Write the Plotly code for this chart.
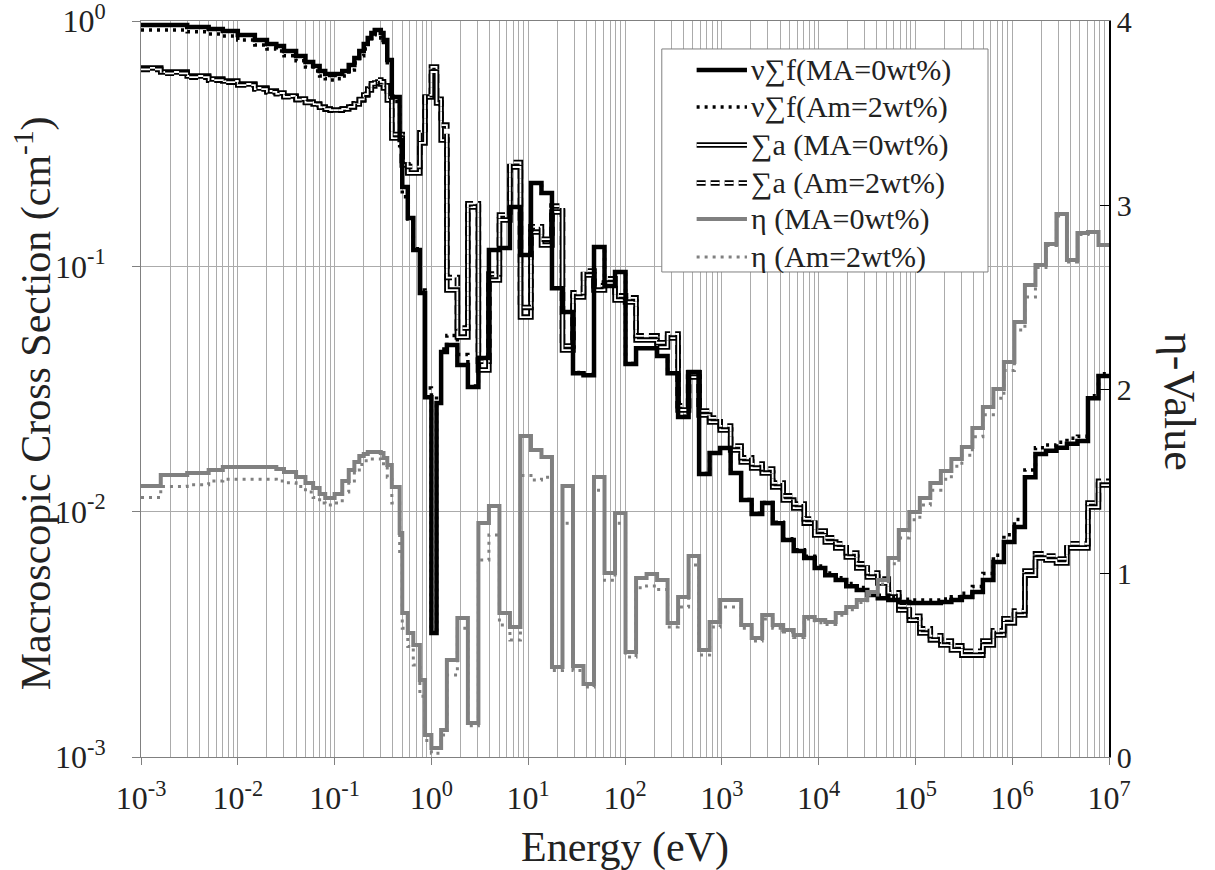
import plotly.graph_objects as go

# Energy group boundaries (eV), descending
E_BOUNDS = [
    1.0e7, 7.788e6, 6.065e6, 4.724e6, 3.679e6, 2.865e6, 2.231e6, 1.738e6, 1.353e6, 1.054e6,
    8.208e5, 6.393e5, 4.979e5, 3.877e5, 3.020e5, 2.352e5, 1.832e5, 1.426e5, 1.111e5, 8.652e4,
    6.738e4, 5.248e4, 4.087e4, 3.183e4, 2.479e4, 1.930e4, 1.503e4, 1.171e4, 9.119e3, 7.102e3,
    5.531e3, 4.307e3, 3.355e3, 2.613e3, 2.035e3, 1.585e3, 1.234e3, 961.1, 748.5, 582.9,
    454.0, 353.6, 275.4, 214.5, 167.0, 130.1, 101.3, 78.89, 61.44, 47.85,
    37.27, 29.02, 22.60, 17.60, 13.71, 10.68, 8.315, 6.476, 5.043, 3.928,
    3.059, 2.382, 1.855, 1.445, 1.26, 1.13, 1.0, 0.86, 0.76, 0.65,
    0.57, 0.50, 0.47, 0.39, 0.35, 0.32, 0.30, 0.28, 0.26, 0.24,
    0.22, 0.20, 0.18, 0.16, 0.14, 0.12, 0.10, 0.09, 0.08, 0.07,
    0.06, 0.05, 0.04, 0.03, 0.025, 0.02, 0.015, 0.01, 0.007, 0.005,
    0.003, 0.0016, 0.001,
]

# Group values, same order (highest energy group first)
NUSF_MA = [
    0.0357, 0.0290, 0.0194, 0.0189, 0.0182, 0.0177, 0.0172, 0.0138, 0.00865, 0.00752,
    0.00623, 0.00526, 0.00470, 0.00449, 0.00436, 0.00428, 0.00424, 0.00424, 0.00424, 0.00428,
    0.00436, 0.00444, 0.00457, 0.00479, 0.00497, 0.00526, 0.00551, 0.00589, 0.00647, 0.00691,
    0.00766, 0.00898, 0.01084, 0.00978, 0.01115, 0.01437, 0.01817, 0.01734, 0.01423, 0.0371,
    0.0243, 0.0367, 0.0431, 0.0464, 0.0464, 0.0400, 0.0948, 0.0831, 0.1199, 0.0360,
    0.0367, 0.0651, 0.0815, 0.1990, 0.2186, 0.1112, 0.1745, 0.1187, 0.1165, 0.0423,
    0.0322, 0.0396, 0.0478, 0.0447, 0.0277, 0.00320, 0.0293, 0.0778, 0.1165, 0.1573,
    0.2106, 0.3272, 0.4898, 0.6934, 0.8368, 0.8936, 0.9190, 0.9190, 0.8936, 0.8525,
    0.8057, 0.7548, 0.7066, 0.6616, 0.6254, 0.6080, 0.6023, 0.6080, 0.6254, 0.6554,
    0.6806, 0.7201, 0.7548, 0.7909, 0.8057, 0.8368, 0.8768, 0.9104, 0.9277, 0.9453,
    0.9632, 0.9632,
]
NUSF_AM = [
    0.0365, 0.0297, 0.0203, 0.0199, 0.0192, 0.0187, 0.0182, 0.0148, 0.00930, 0.00805,
    0.00665, 0.00560, 0.00495, 0.00465, 0.00450, 0.00441, 0.00436, 0.00436, 0.00436, 0.00440,
    0.00448, 0.00456, 0.00469, 0.00491, 0.00509, 0.00538, 0.00562, 0.00600, 0.00658, 0.00700,
    0.00775, 0.00905, 0.01090, 0.00985, 0.01120, 0.01440, 0.01820, 0.01740, 0.01430, 0.0372,
    0.0245, 0.0368, 0.0432, 0.0465, 0.0465, 0.0402, 0.0950, 0.0833, 0.1200, 0.0362,
    0.0369, 0.0652, 0.0816, 0.1990, 0.2186, 0.1112, 0.1745, 0.1187, 0.1165, 0.0425,
    0.0325, 0.0437, 0.0523, 0.0460, 0.0300, 0.00330, 0.0319, 0.0800, 0.1180, 0.1560,
    0.1920, 0.3100, 0.4700, 0.662, 0.799, 0.853, 0.878, 0.878, 0.853, 0.814,
    0.769, 0.721, 0.675, 0.632, 0.597, 0.581, 0.575, 0.581, 0.597, 0.626,
    0.650, 0.688, 0.721, 0.755, 0.769, 0.799, 0.837, 0.869, 0.886, 0.903,
    0.920, 0.920,
]
SIGA_MA = [
    0.01283, 0.01044, 0.00711, 0.00711, 0.00617, 0.00635, 0.00647, 0.00551, 0.00379, 0.00352,
    0.00314, 0.00286, 0.00260, 0.00260, 0.00273, 0.00286, 0.00300, 0.00320, 0.00361, 0.00397,
    0.00449, 0.00512, 0.00541, 0.00589, 0.00653, 0.00711, 0.00752, 0.00803, 0.00898, 0.01034,
    0.01115, 0.01260, 0.01437, 0.01506, 0.01593, 0.01783, 0.02151, 0.02318, 0.02476, 0.03538,
    0.02596, 0.05101, 0.04688, 0.05006, 0.05006, 0.07152, 0.07288, 0.08548, 0.08006, 0.09216,
    0.07496, 0.04558, 0.1665, 0.1221, 0.1379, 0.06213, 0.2540, 0.1545, 0.08792, 0.03779,
    0.1745, 0.05149, 0.08006, 0.3272, 0.4630, 0.6196, 0.4898, 0.3183, 0.2401, 0.2401,
    0.2588, 0.3334, 0.3334, 0.4764, 0.5331, 0.5536, 0.5641, 0.5589, 0.5433, 0.5233,
    0.4993, 0.4764, 0.4587, 0.4460, 0.4377, 0.4336, 0.4336, 0.4377, 0.4460, 0.4587,
    0.4674, 0.4809, 0.4946, 0.5087, 0.5184, 0.5331, 0.5536, 0.5694, 0.5802, 0.5967,
    0.6196, 0.6436,
]
SIGA_AM = [
    0.01330, 0.01085, 0.00740, 0.00740, 0.00642, 0.00660, 0.00673, 0.00573, 0.00394, 0.00366,
    0.00327, 0.00297, 0.00270, 0.00270, 0.00284, 0.00297, 0.00312, 0.00333, 0.00375, 0.00413,
    0.00467, 0.00532, 0.00563, 0.00613, 0.00679, 0.00740, 0.00782, 0.00835, 0.00934, 0.01075,
    0.01160, 0.01310, 0.01494, 0.01566, 0.01657, 0.01854, 0.02237, 0.02411, 0.02575, 0.0368,
    0.0270, 0.0530, 0.0488, 0.0521, 0.0521, 0.0744, 0.0758, 0.0889, 0.0833, 0.0958,
    0.0780, 0.0474, 0.1760, 0.1290, 0.1450, 0.0680, 0.2650, 0.1620, 0.0930, 0.0410,
    0.1800, 0.0560, 0.0900, 0.3766, 0.4800, 0.6500, 0.5000, 0.3500, 0.2550, 0.2550,
    0.2700, 0.3450, 0.3450, 0.4900, 0.5450, 0.5650, 0.5750, 0.5700, 0.5550, 0.5280,
    0.5030, 0.4790, 0.4600, 0.4470, 0.4380, 0.4330, 0.4330, 0.4370, 0.4450, 0.4570,
    0.4650, 0.4780, 0.4910, 0.5050, 0.5140, 0.5280, 0.5480, 0.5630, 0.5740, 0.5900,
    0.6120, 0.6350,
]
ETA_MA = [
    2.783, 2.853, 2.848, 2.701, 2.951, 2.788, 2.674, 2.565, 2.364, 2.147,
    2.000, 1.902, 1.788, 1.685, 1.620, 1.554, 1.489, 1.408, 1.332, 1.234,
    1.082, 0.962, 0.897, 0.853, 0.815, 0.783, 0.734, 0.745, 0.761, 0.663,
    0.690, 0.717, 0.772, 0.647, 0.717, 0.853, 0.853, 0.734, 0.582, 1.092,
    0.870, 0.728, 0.962, 0.995, 0.973, 0.571, 1.326, 1.000, 1.522, 0.397,
    0.495, 1.473, 0.489, 1.630, 1.668, 1.745, 0.707, 0.783, 1.364, 1.272,
    0.185, 0.755, 0.527, 0.147, 0.049, 0.049, 0.120, 0.418, 0.609, 0.674,
    0.783, 1.217, 1.467, 1.587, 1.625, 1.652, 1.658, 1.658, 1.658, 1.658,
    1.647, 1.636, 1.603, 1.560, 1.500, 1.429, 1.408, 1.408, 1.429, 1.462,
    1.489, 1.522, 1.549, 1.565, 1.576, 1.576, 1.576, 1.576, 1.560, 1.543,
    1.533, 1.473,
]
ETA_AM = [
    2.78, 2.85, 2.84, 2.69, 2.94, 2.78, 2.66, 2.50, 2.32, 2.10,
    1.95, 1.86, 1.74, 1.64, 1.58, 1.51, 1.45, 1.37, 1.29, 1.19,
    1.05, 0.94, 0.88, 0.84, 0.80, 0.77, 0.72, 0.73, 0.75, 0.65,
    0.68, 0.70, 0.75, 0.63, 0.70, 0.815, 0.815, 0.707, 0.554, 1.043,
    0.815, 0.707, 0.91, 0.93, 0.92, 0.543, 1.27, 0.96, 1.45, 0.38,
    0.47, 1.27, 0.47, 1.52, 1.505, 1.53, 0.636, 0.717, 1.207, 1.07,
    0.17, 0.70, 0.446, 0.12, 0.02, 0.02, 0.09, 0.33, 0.50, 0.60,
    0.70, 1.10, 1.38, 1.52, 1.58, 1.61, 1.62, 1.62, 1.62, 1.62,
    1.61, 1.59, 1.56, 1.50, 1.44, 1.38, 1.37, 1.37, 1.38, 1.41,
    1.44, 1.47, 1.49, 1.50, 1.51, 1.51, 1.51, 1.51, 1.50, 1.48,
    1.47, 1.41,
]

X_TICKS = [1e-3, 1e-2, 1e-1, 1e0, 1e1, 1e2, 1e3, 1e4, 1e5, 1e6, 1e7]
X_TICKTEXT = ["10<sup>-3</sup>", "10<sup>-2</sup>", "10<sup>-1</sup>", "10<sup>0</sup>",
              "10<sup>1</sup>", "10<sup>2</sup>", "10<sup>3</sup>", "10<sup>4</sup>",
              "10<sup>5</sup>", "10<sup>6</sup>", "10<sup>7</sup>"]
Y_TICKS = [1e-3, 1e-2, 1e-1, 1e0]
Y_TICKTEXT = ["10<sup>-3</sup>", "10<sup>-2</sup>", "10<sup>-1</sup>", "10<sup>0</sup>"]
Y2_TICKS = [0, 1, 2, 3, 4]

LEGEND_LABELS = ["ν∑f(MA=0wt%)", "ν∑f(Am=2wt%)", "∑a (MA=0wt%)",
                 "∑a (Am=2wt%)", "η (MA=0wt%)", "η (Am=2wt%)"]

FONT = "Liberation Serif"
TXT = "#222222"
GRAY = "#808080"
GRID = "#ababab"


def steps(values):
    x = E_BOUNDS[::-1]
    y = values[::-1] + [values[0]]
    return x, y


fig = go.Figure()


def add(values, color, width, dash="solid", yaxis="y"):
    x, y = steps(values)
    fig.add_trace(go.Scatter(x=x, y=y, mode="lines", yaxis=yaxis, showlegend=False,
                             line=dict(shape="hv", color=color, width=width, dash=dash),
                             hoverinfo="skip"))


# Σa (double lines)
add(SIGA_MA, "black", 5.5)
add(SIGA_MA, "white", 1.8)
add(SIGA_AM, "black", 5.5, dash="9px,5px")
add(SIGA_AM, "white", 1.8, dash="9px,5px")
# νΣf
add(NUSF_MA, "black", 4.5)
add(NUSF_AM, "black", 3.5, dash="3px,5px")
# η (right axis)
add(ETA_MA, GRAY, 4.0, yaxis="y2")
add(ETA_AM, GRAY, 3.0, dash="3px,5px", yaxis="y2")

minor_vals = [m * 10.0 ** d for d in range(-3, 7) for m in range(2, 10)]

fig.update_layout(
    width=1215, height=870,
    margin=dict(l=141, r=106, t=21, b=113, autoexpand=False),
    paper_bgcolor="white", plot_bgcolor="white",
    font=dict(family=FONT, color=TXT, size=30),
    xaxis=dict(type="log", range=[-3, 7], tickvals=X_TICKS, ticktext=X_TICKTEXT,
               showgrid=True, gridcolor=GRID, gridwidth=1, automargin=False,
               minor=dict(tickvals=minor_vals, showgrid=True, gridcolor=GRID, gridwidth=1, ticklen=0),
               ticks="outside", ticklen=7, tickcolor=GRAY, ticklabelstandoff=6,
               ticklabeloverflow="allow",
               showline=True, linecolor=GRAY, linewidth=1, mirror=True,
               zeroline=False, tickfont=dict(size=32, family=FONT, color=TXT)),
    yaxis=dict(type="log", range=[-3, 0], tickvals=Y_TICKS, ticktext=Y_TICKTEXT,
               showgrid=True, gridcolor=GRID, gridwidth=1, automargin=False,
               ticks="outside", ticklen=8, tickcolor=GRAY, ticklabelstandoff=20,
               ticklabeloverflow="allow",
               showline=True, linecolor=GRAY, linewidth=1,
               zeroline=False, tickfont=dict(size=32, family=FONT, color=TXT)),
    yaxis2=dict(overlaying="y", side="right", range=[0, 4], tickvals=Y2_TICKS,
                showgrid=False, zeroline=False, ticks="inside", ticklen=9, tickcolor="black",
                showline=True, linecolor="black", linewidth=1.5, automargin=False,
                ticklabeloverflow="allow",
                tickfont=dict(size=30, family=FONT, color=TXT)),
    showlegend=False,
)

# Axis titles
fig.add_annotation(text="Energy (eV)", x=0.5, y=-0.1226, xref="paper", yref="paper",
                   showarrow=False, font=dict(size=42, family=FONT, color=TXT),
                   xanchor="center", yanchor="middle")
fig.add_annotation(text="Macroscopic Cross Section (cm<sup>-1</sup>)", x=-0.111, y=0.48,
                   xref="paper", yref="paper", showarrow=False, textangle=-90,
                   font=dict(size=42, family=FONT, color=TXT),
                   xanchor="center", yanchor="middle")
fig.add_annotation(text="η-Value", x=1.073, y=0.483, xref="paper", yref="paper",
                   showarrow=False, textangle=90,
                   font=dict(size=44, family=FONT, color=TXT),
                   xanchor="center", yanchor="middle")

# Custom legend
lx0, lx1, ly0, ly1 = 0.538, 0.875, 0.659, 0.962
fig.add_shape(type="rect", xref="paper", yref="paper", x0=lx0, x1=lx1, y0=ly0, y1=ly1,
              line=dict(color=GRAY, width=1), fillcolor="white", layer="above")
rows = [0.9334, 0.8832, 0.8315, 0.7799, 0.7310, 0.6793]
sx0, sx1 = 0.574, 0.626
styles = [
    [("black", 4.5, "solid")],
    [("black", 3.5, "3px,5px")],
    [("black", 5.5, "solid"), ("white", 1.8, "solid")],
    [("black", 5.5, "9px,5px"), ("white", 1.8, "9px,5px")],
    [(GRAY, 4.0, "solid")],
    [(GRAY, 3.0, "3px,5px")],
]
for yy, st, lab in zip(rows, styles, LEGEND_LABELS):
    for col, w, d in st:
        fig.add_shape(type="line", xref="paper", yref="paper", x0=sx0, x1=sx1, y0=yy, y1=yy,
                      line=dict(color=col, width=w, dash=d), layer="above")
    fig.add_annotation(text=lab, x=0.628, y=yy, xref="paper", yref="paper", showarrow=False,
                       xanchor="left", yanchor="middle",
                       font=dict(size=30, family=FONT, color=TXT))

# remove the browser's default 8px page margin so the figure fills the window
fig.write_html("out.html", config={"displayModeBar": False},
               post_script="document.body.style.margin='0px';")
